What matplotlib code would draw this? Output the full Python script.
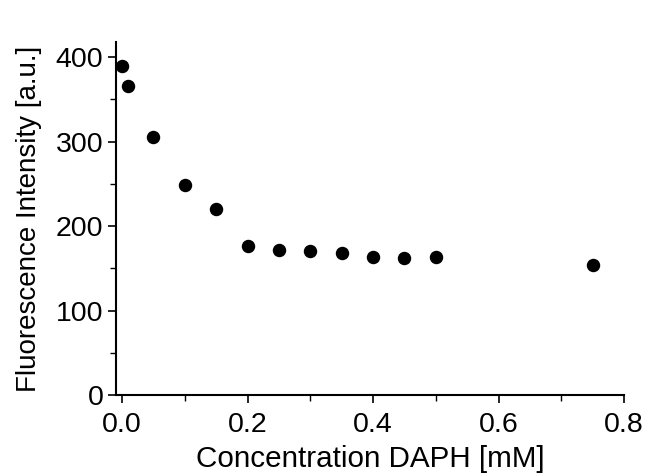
import matplotlib
matplotlib.use("Agg")
import matplotlib.pyplot as plt
from matplotlib.ticker import MultipleLocator

conc = [0.0, 0.01, 0.05, 0.10, 0.15, 0.20, 0.25, 0.30, 0.35, 0.40, 0.45, 0.50, 0.75]
intensity = [390, 366, 305, 249, 220, 176, 172, 170, 168, 164, 162, 164, 154]

plt.rcParams['font.family'] = ['Liberation Sans', 'DejaVu Sans']

fig = plt.figure(figsize=(6.48, 4.73), dpi=100)
ax = fig.add_axes([0.179, 0.165, 0.784, 0.746])
ax.scatter(conc, intensity, s=75, color='black', zorder=3, clip_on=False)

ax.set_xlim(-0.0096, 0.8)
ax.set_ylim(0, 418)
ax.xaxis.set_major_locator(MultipleLocator(0.2))
ax.xaxis.set_minor_locator(MultipleLocator(0.1))
ax.yaxis.set_major_locator(MultipleLocator(100))
ax.yaxis.set_minor_locator(MultipleLocator(50))
ax.xaxis.set_major_formatter(matplotlib.ticker.FormatStrFormatter('%.1f'))

for s in ['top', 'right']:
    ax.spines[s].set_visible(False)
for s in ['left', 'bottom']:
    ax.spines[s].set_linewidth(1.5)

ax.tick_params(which='major', direction='out', length=6, width=1.2, labelsize=20.5)
ax.tick_params(axis='x', which='major', pad=6)
ax.tick_params(axis='y', which='major', pad=3)
ax.tick_params(which='minor', direction='out', length=4, width=1.0)

ax.set_xlabel('Concentration DAPH [mM]', fontsize=21.3, labelpad=5)
ax.set_ylabel('Fluorescence Intensity [a.u.]', fontsize=20, labelpad=10)

fig.savefig('out.png', dpi=100)
